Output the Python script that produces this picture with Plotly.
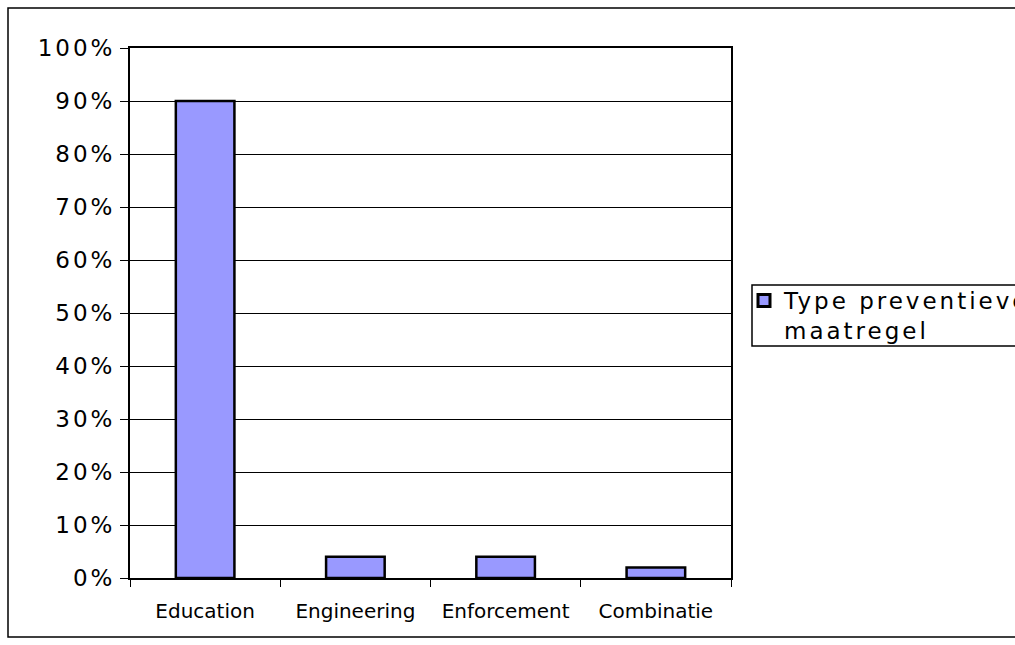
import plotly.graph_objects as go

categories = ["Education", "Engineering", "Enforcement", "Combinatie"]
values = [90, 4, 4, 2]
series_name = "Type preventieve<br>maatregel"
y_ticks = [0, 10, 20, 30, 40, 50, 60, 70, 80, 90, 100]
y_ticktext = [f"{v}%" for v in y_ticks]

L, R, T, B = 130, 284, 48, 67
W, H = 1015, 645
pw, ph = W - L - R, H - T - B

def px(x):
    return (x - L) / pw

def py(y):
    return (H - B - y) / ph

fig = go.Figure()
fig.add_trace(go.Bar(
    x=categories, y=values, name=series_name,
    marker=dict(color="#9999FF", line=dict(color="black", width=2.5)),
    showlegend=True,
))

fig.update_layout(
    width=W, height=H,
    margin=dict(l=L, r=R, t=T, b=B, pad=0),
    paper_bgcolor="white", plot_bgcolor="white",
    font=dict(family="DejaVu Sans", color="black"),
    bargap=0.61,
    showlegend=True,
    legend=dict(
        xref="container", yref="container",
        x=744 / W, y=1 - 279 / H, xanchor="left", yanchor="top",
        borderwidth=0, bgcolor="rgba(0,0,0,0)",
        font=dict(size=23, family="DejaVu Sans"),
        valign="top", tracegroupgap=0,
    ),
    xaxis=dict(
        type="category", showline=True, linecolor="black", linewidth=2,
        mirror=True, ticks="outside", tickson="boundaries", ticklen=7,
        tickcolor="black", tickwidth=1, tickfont=dict(size=20),
        showgrid=False, ticklabelstandoff=14,
    ),
    yaxis=dict(
        range=[0, 100], tickvals=y_ticks, ticktext=y_ticktext,
        showline=True, linecolor="black", linewidth=2, mirror=True,
        ticks="outside", ticklen=8, tickcolor="black", tickwidth=1,
        tickfont=dict(size=23),
        showgrid=True, gridcolor="black", gridwidth=1, zeroline=False,
    ),
    shapes=[
        dict(
            type="rect", xref="paper", yref="paper",
            x0=px(8), x1=px(1030), y0=py(637), y1=py(8),
            line=dict(color="black", width=1.5), fillcolor="rgba(0,0,0,0)",
            layer="below",
        ),
        dict(
            type="rect", xref="paper", yref="paper",
            x0=px(752), x1=px(1030), y0=py(346), y1=py(285),
            line=dict(color="black", width=1.5), fillcolor="rgba(0,0,0,0)",
            layer="below",
        ),
    ],
)

post = """
var gd = document.getElementById('{plot_id}');
function sp() {
  gd.querySelectorAll('.ytick text, .legendtext').forEach(function(e) {
    e.style.letterSpacing = '3px';
  });
  gd.querySelectorAll('.legend [clip-path]').forEach(function(e) {
    e.removeAttribute('clip-path');
  });
  gd.querySelectorAll('.legend .legendpoints path').forEach(function(e) {
    e.style.strokeWidth = '3px';
  });
}
sp();
gd.on('plotly_afterplot', sp);
"""

fig.write_html("out.html", post_script=post)
